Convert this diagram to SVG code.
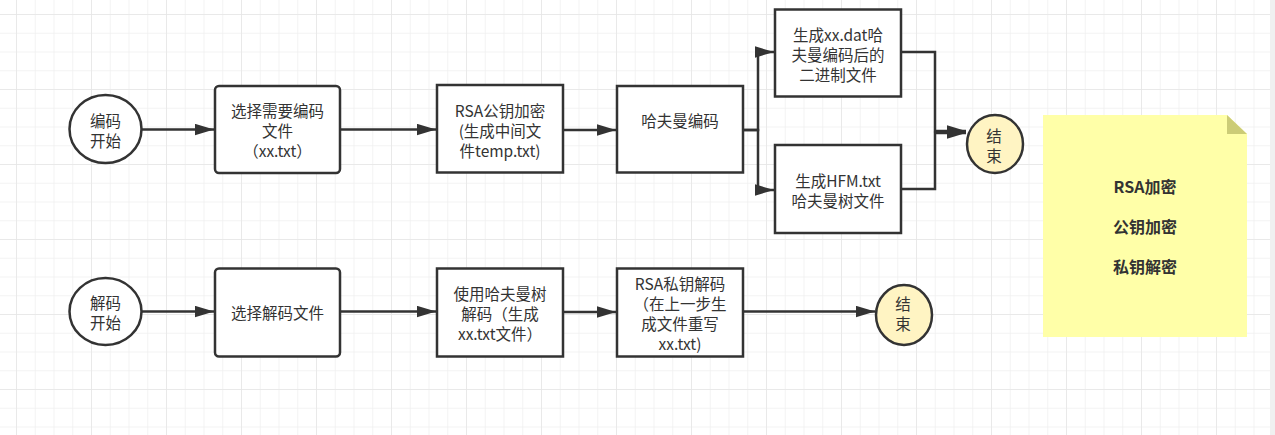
<svg xmlns="http://www.w3.org/2000/svg" width="1275" height="435" viewBox="0 0 1275 435">
<defs>
<pattern id="minor" x="16" y="14" width="18.75" height="18.75" patternUnits="userSpaceOnUse">
<path d="M0 0H18.75M0 0V18.75" fill="none" stroke="#f0f0f0" stroke-width="1.5"/>
</pattern>
<pattern id="major" x="16" y="14" width="75" height="75" patternUnits="userSpaceOnUse">
<path d="M0 0H75M0 0V75" fill="none" stroke="#e6e6e6" stroke-width="1.5"/>
</pattern>
<marker id="arrL" viewBox="0 0 20 12" refX="20" refY="6" markerWidth="19" markerHeight="12" markerUnits="userSpaceOnUse" orient="auto">
<path d="M0 0L20 6L0 12Z" fill="#333"/>
</marker>
</defs>
<style>
.t{font-family:"Noto Sans CJK SC","Microsoft YaHei",sans-serif;font-size:15.5px;fill:#333;text-anchor:middle;dominant-baseline:central}
.b{font-weight:bold;font-size:16px}
.box{fill:#fff;stroke:#333;stroke-width:2.5}
.end{fill:#fff4c3;stroke:#333;stroke-width:2.5}
.c{fill:none;stroke:#333;stroke-width:2.5;marker-end:url(#arrL)}
</style>
<rect width="1275" height="435" fill="#fff"/>
<rect width="1270" height="435" fill="url(#minor)"/>
<rect width="1270" height="435" fill="url(#major)"/>
<rect x="1270" y="0" width="5" height="435" fill="#f0f0f0"/>

<g id="connectors">
<path class="c" d="M142 129.5H214"/>
<path class="c" d="M340 129.5H436"/>
<path class="c" d="M563 130H616"/>
<path class="c" d="M743 130H758V52H774"/>
<path class="c" d="M743 130H758V190H774"/>
<path class="c" d="M901 52H935V131H966"/>
<path class="c" d="M901 189H935V133H966"/>
<path class="c" d="M142 311.5H214"/>
<path class="c" d="M340 311.5H436"/>
<path class="c" d="M563 312H616"/>
<path class="c" d="M743 311.5H875"/>
</g>

<g id="start-encode">
<ellipse class="box" cx="105.5" cy="129" rx="36" ry="34"/>
<text class="t" x="105.5" y="120">编码</text>
<text class="t" x="105.5" y="140">开始</text>
</g>
<g id="select-encode-file">
<rect class="box" x="215" y="86" width="125" height="87" rx="4"/>
<text class="t" x="277.5" y="110">选择需要编码</text>
<text class="t" x="277.5" y="130">文件</text>
<text class="t" x="277.5" y="150">（xx.txt）</text>
</g>
<g id="rsa-encrypt">
<rect class="box" x="437" y="85" width="126" height="87.5"/>
<text class="t" x="500" y="110">RSA公钥加密</text>
<text class="t" x="500" y="130">(生成中间文</text>
<text class="t" x="500" y="150">件temp.txt)</text>
</g>
<g id="huffman-encode">
<rect class="box" x="617" y="86" width="126" height="86.5"/>
<text class="t" x="680" y="120">哈夫曼编码</text>
</g>
<g id="gen-dat">
<rect class="box" x="775" y="9.5" width="126" height="87"/>
<text class="t" x="838" y="33.5">生成xx.dat哈</text>
<text class="t" x="838" y="53.5">夫曼编码后的</text>
<text class="t" x="838" y="73.5">二进制文件</text>
</g>
<g id="gen-hfm">
<rect class="box" x="775" y="145" width="126" height="88"/>
<text class="t" x="838" y="180">生成HFM.txt</text>
<text class="t" x="838" y="200">哈夫曼树文件</text>
</g>
<g id="end-encode">
<ellipse class="end" cx="995" cy="144" rx="28" ry="29"/>
<text class="t" x="994" y="135">结</text>
<text class="t" x="994" y="155">束</text>
</g>

<g id="start-decode">
<ellipse class="box" cx="105.5" cy="311.5" rx="36" ry="33.5"/>
<text class="t" x="105.5" y="301.5">解码</text>
<text class="t" x="105.5" y="321.5">开始</text>
</g>
<g id="select-decode-file">
<rect class="box" x="215" y="268.5" width="125" height="88" rx="4"/>
<text class="t" x="277.5" y="311.5">选择解码文件</text>
</g>
<g id="huffman-decode">
<rect class="box" x="437" y="268.5" width="126" height="88"/>
<text class="t" x="500" y="293">使用哈夫曼树</text>
<text class="t" x="500" y="313">解码（生成</text>
<text class="t" x="500" y="333">xx.txt文件）</text>
</g>
<g id="rsa-decrypt">
<rect class="box" x="617" y="268.5" width="126" height="88"/>
<text class="t" x="680" y="283">RSA私钥解码</text>
<text class="t" x="680" y="303">（在上一步生</text>
<text class="t" x="680" y="323">成文件重写</text>
<text class="t" x="680" y="343">xx.txt)</text>
</g>
<g id="end-decode">
<ellipse class="end" cx="904" cy="315" rx="28" ry="30"/>
<text class="t" x="903" y="303">结</text>
<text class="t" x="903" y="323">束</text>
</g>

<g id="note">
<path d="M1043 115H1227L1247 134V337H1043Z" fill="#ffffa8"/>
<path d="M1227 115L1247 134H1227Z" fill="#cccc77"/>
<text class="t b" x="1145" y="186">RSA加密</text>
<text class="t b" x="1145" y="226">公钥加密</text>
<text class="t b" x="1145" y="266">私钥解密</text>
</g>
</svg>
